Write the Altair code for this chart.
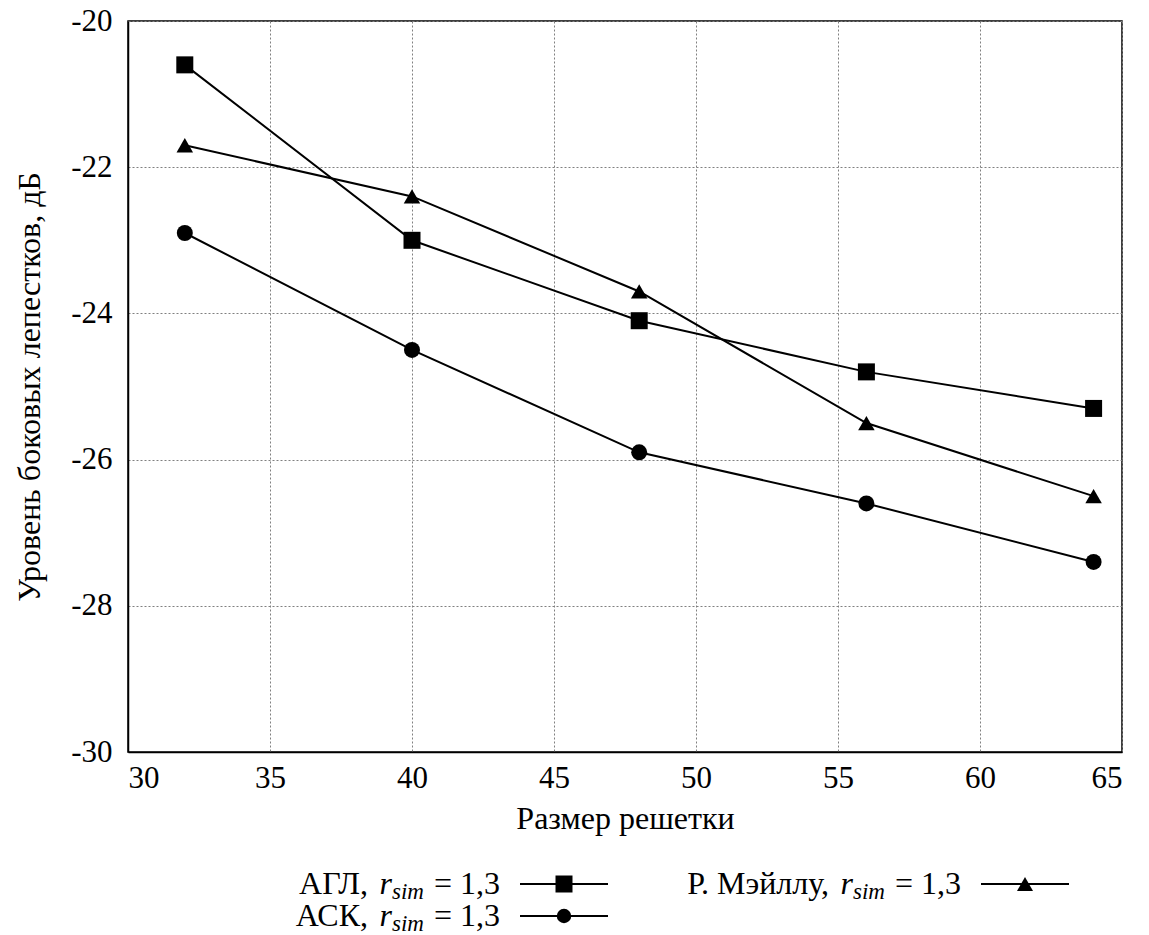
import altair as alt
import pandas as pd

# ---- data ----
sizes = [32, 40, 48, 56, 64]
agl = [-20.6, -23.0, -24.1, -24.8, -25.3]
mailloux = [-21.7, -22.4, -23.7, -25.5, -26.5]
ask = [-22.9, -24.5, -25.9, -26.6, -27.4]

series_names = ["АГЛ", "Р. Мэйллу", "АСК"]
series_shapes = ["square", "triangle-up", "circle"]
series_sizes = [289, 256, 210]
series_values = [agl, mailloux, ask]

x_ticks = [30, 35, 40, 45, 50, 55, 60, 65]
y_ticks = [-30, -28, -26, -24, -22, -20]

legend_prefix = ["АГЛ,", "Р. Мэйллу,", "АСК,"]
legend_value = "= 1,3"

FONT = "'Liberation Serif', 'Times New Roman', Times, serif"
W, H = 994, 731

rows = []
for name, vals in zip(series_names, series_values):
    for s, v in zip(sizes, vals):
        rows.append({"series": name, "size": s, "value": v})
df = pd.DataFrame(rows)

x_enc = alt.X("size:Q", scale=alt.Scale(domain=[30, 65], nice=False, zero=False),
              axis=alt.Axis(values=x_ticks, title="Размер решетки",
                            labelExpr="toString(datum.value)"))
y_enc = alt.Y("value:Q", scale=alt.Scale(domain=[-30, -20], nice=False, zero=False),
              axis=alt.Axis(values=y_ticks, title="Уровень боковых лепестков, дБ",
                            labelExpr="toString(datum.value)"))

lines = alt.Chart(df).mark_line(color="black", strokeWidth=2).encode(
    x=x_enc, y=y_enc, detail="series:N"
)
points = alt.Chart(df).mark_point(filled=True, color="black", opacity=1).encode(
    x="size:Q", y="value:Q",
    shape=alt.Shape("series:N", scale=alt.Scale(domain=series_names, range=series_shapes), legend=None),
    size=alt.Size("series:N", scale=alt.Scale(domain=series_names, range=series_sizes), legend=None),
)

# ---- manual legend (rich text with italic subscript) ----
one = alt.Data(values=[{"k": 0}])
col_text_end = [372, 833, 372]   # text right end, relative to plot origin
row_y = [863, 863, 895]


def legend_entry(i):
    end = col_text_end[i]
    ly = row_y[i]
    ty = ly + 10
    layers = [
        alt.Chart(one).mark_rule(color="black", strokeWidth=2).encode(
            x=alt.value(end + 20), x2=alt.value(end + 108), y=alt.value(ly)),
        alt.Chart(one).mark_point(filled=True, color="black", opacity=1,
                                  shape=series_shapes[i], size=series_sizes[i]).encode(
            x=alt.value(end + 64), y=alt.value(ly)),
        alt.Chart(one).mark_text(align="right", baseline="alphabetic", font=FONT, fontSize=32,
                                 color="black", text=legend_prefix[i]).encode(
            x=alt.value(end - 132), y=alt.value(ty)),
        alt.Chart(one).mark_text(align="right", baseline="alphabetic", font=FONT, fontSize=32,
                                 fontStyle="italic", color="black", text="r").encode(
            x=alt.value(end - 108), y=alt.value(ty)),
        alt.Chart(one).mark_text(align="left", baseline="alphabetic", font=FONT, fontSize=23,
                                 fontStyle="italic", color="black", text="sim").encode(
            x=alt.value(end - 108), y=alt.value(ty + 5)),
        alt.Chart(one).mark_text(align="right", baseline="alphabetic", font=FONT, fontSize=32,
                                 color="black", text=legend_value).encode(
            x=alt.value(end), y=alt.value(ty)),
    ]
    return layers


legend_layers = []
for i in range(len(series_names)):
    legend_layers += legend_entry(i)

chart = alt.layer(lines, points, *legend_layers).properties(
    width=W, height=H,
    autosize=alt.AutoSizeParams(type="none"),
    padding={"left": 120, "top": 13, "right": 19, "bottom": 183},
    background="white",
).configure(
    font=FONT,
).configure_view(
    stroke="black", strokeWidth=1.5
).configure_axis(
    labelFont=FONT, labelFontSize=31, labelColor="black",
    titleFont=FONT, titleFontSize=32, titleFontWeight="normal", titleColor="black",
    domainColor="black", domainWidth=1.5,
    tickSize=0,
    grid=True, gridColor="#808080", gridDash=[2, 2], gridWidth=1, gridOpacity=1,
).configure_axisX(
    labelPadding=11, titleY=76, titleBaseline="alphabetic",
).configure_axisY(
    labelPadding=16, titleX=-89, titleY=365.5, titleAngle=-90,
    titleBaseline="alphabetic", titleAlign="center",
)

chart.save("out.html", embed_options={"renderer": "svg", "actions": False})
